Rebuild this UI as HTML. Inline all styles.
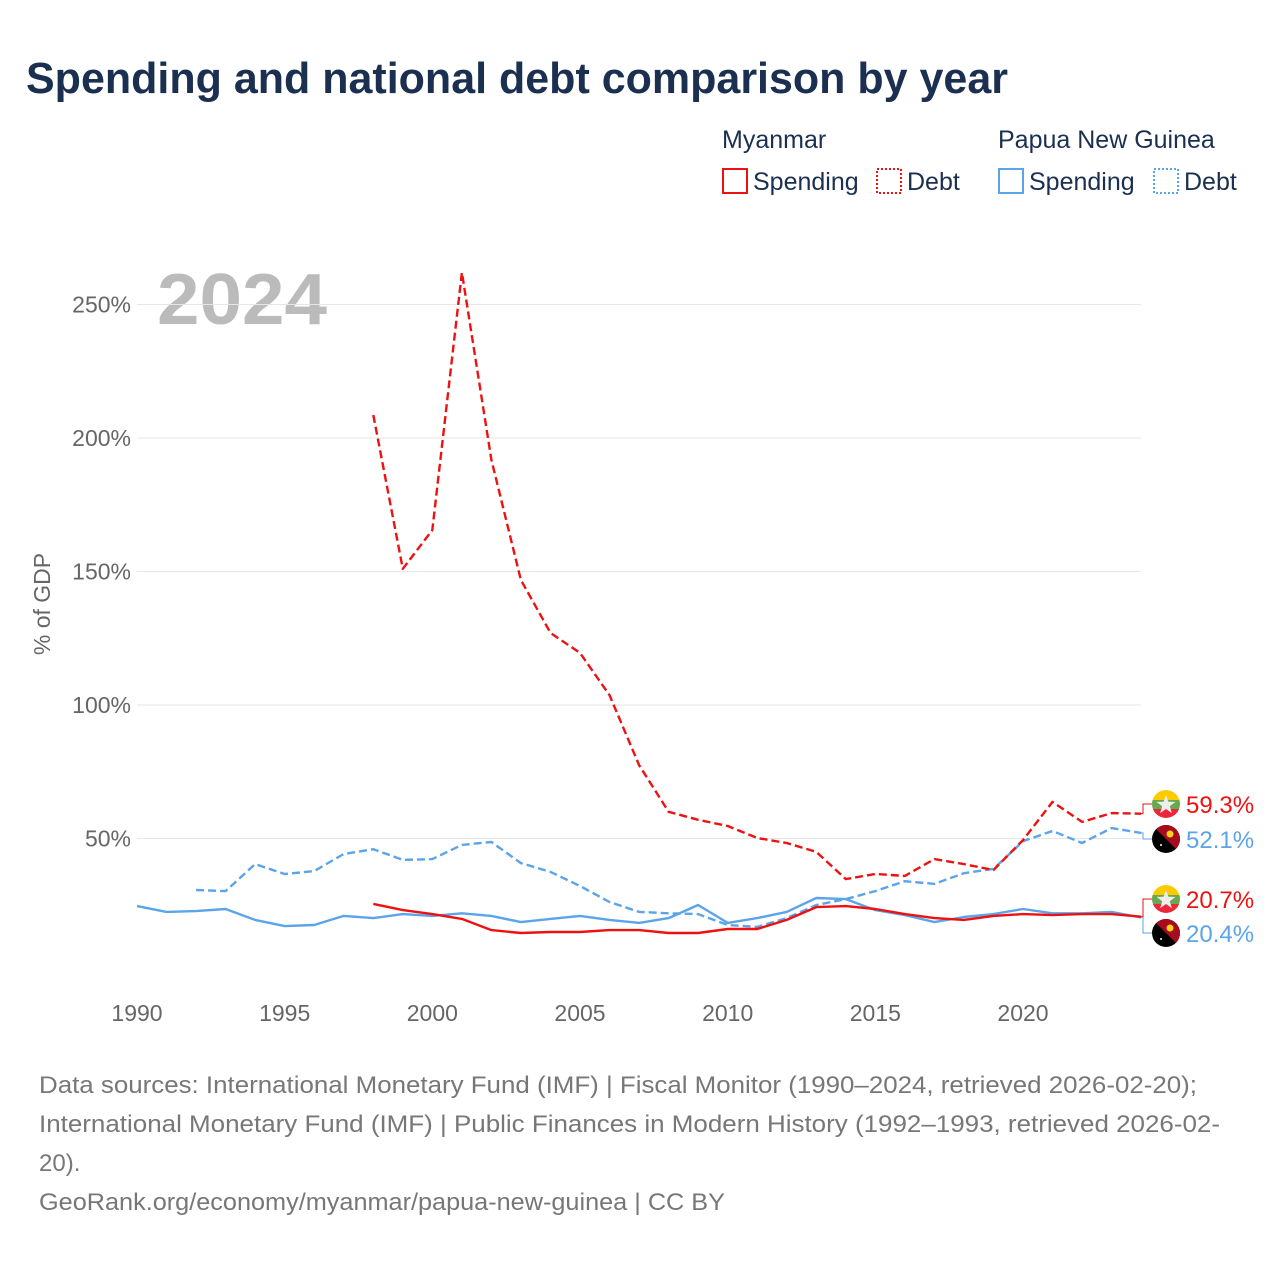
<!DOCTYPE html>
<html><head><meta charset="utf-8">
<style>
html,body{margin:0;padding:0;background:#fff;}
body{width:1280px;height:1280px;overflow:hidden;font-family:"Liberation Sans",sans-serif;}
text{font-family:"Liberation Sans",sans-serif;}
</style></head>
<body>
<svg id="chart" width="1280" height="1280" viewBox="0 0 1280 1280" xmlns="http://www.w3.org/2000/svg">
<text x="26" y="93" font-size="44" font-weight="bold" fill="#1b3050" textLength="982" lengthAdjust="spacingAndGlyphs">Spending and national debt comparison by year</text>
<g font-size="25" fill="#1b3050">
<text x="722" y="148">Myanmar</text>
<text x="998" y="148">Papua New Guinea</text>
<g><rect x="723" y="169" width="24" height="24" fill="none" stroke="#ee1111" stroke-width="2"/><text x="753" y="190">Spending</text></g>
<g><rect x="877" y="169" width="24" height="24" fill="none" stroke="#ee1111" stroke-width="2" stroke-dasharray="2,2"/><text x="907" y="190">Debt</text></g>
<g><rect x="999" y="169" width="24" height="24" fill="none" stroke="#5ba4ea" stroke-width="2"/><text x="1029" y="190">Spending</text></g>
<g><rect x="1154" y="169" width="24" height="24" fill="none" stroke="#5ba4ea" stroke-width="2" stroke-dasharray="2,2"/><text x="1184" y="190">Debt</text></g>
</g>
<text x="157" y="324" font-size="72" font-weight="bold" fill="#bbbbbb" textLength="170" lengthAdjust="spacingAndGlyphs">2024</text>
<text transform="translate(50,604) rotate(-90)" text-anchor="middle" font-size="23" fill="#666">% of GDP</text>
<g id="grid"></g>
<g id="ylabels"></g>
<g id="xlabels"></g>
<g id="series"></g>
<g id="endlabels"></g>
<g font-size="24" fill="#777">
<text x="39" y="1093" textLength="1158" lengthAdjust="spacingAndGlyphs">Data sources: International Monetary Fund (IMF) | Fiscal Monitor (1990–2024, retrieved 2026-02-20);</text>
<text x="39" y="1132" textLength="1181" lengthAdjust="spacingAndGlyphs">International Monetary Fund (IMF) | Public Finances in Modern History (1992–1993, retrieved 2026-02-</text>
<text x="39" y="1171">20).</text>
<text x="39" y="1210" textLength="686" lengthAdjust="spacingAndGlyphs">GeoRank.org/economy/myanmar/papua-new-guinea | CC BY</text>
</g>
</svg>
<script>
const yTicks=[50,100,150,200,250];
const xTicks=[1990,1995,2000,2005,2010,2015,2020];
const mmYears=[1998,1999,2000,2001,2002,2003,2004,2005,2006,2007,2008,2009,2010,2011,2012,2013,2014,2015,2016,2017,2018,2019,2020,2021,2022,2023,2024];
const mmDebt=[208.6,151,165.5,262,191.8,146.8,127,119.5,103.7,77.5,60,57,54.7,50.2,48.3,45,34.8,36.7,36,42.3,40.4,38.2,49.4,63.7,56.2,59.5,59.3];
const mmSpending=[25.5,23.2,21.7,19.9,15.7,14.6,15,15,15.7,15.7,14.6,14.6,16.1,16.1,19.5,24.3,24.7,23.6,21.7,20.2,19.5,21,21.7,21.3,21.7,21.7,20.7];
const pngDebtYears=[1992,1993,1994,1995,1996,1997,1998,1999,2000,2001,2002,2003,2004,2005,2006,2007,2008,2009,2010,2011,2012,2013,2014,2015,2016,2017,2018,2019,2020,2021,2022,2023,2024];
const pngDebt=[30.7,30.3,40.4,36.7,37.8,44.2,46,42,42.3,47.6,48.7,40.8,37.5,32.2,26.2,22.5,22,21.7,17.6,16.9,20.2,25.1,27.3,30.3,34,33,37,38.6,49,52.8,48.3,53.9,52.1];
const pngSpendYears=[1990,1991,1992,1993,1994,1995,1996,1997,1998,1999,2000,2001,2002,2003,2004,2005,2006,2007,2008,2009,2010,2011,2012,2013,2014,2015,2016,2017,2018,2019,2020,2021,2022,2023,2024];
const pngSpending=[24.7,22.5,22.8,23.6,19.5,17.2,17.6,21,20.2,21.7,21,22,21,18.7,19.9,21,19.5,18.4,20.2,25.1,18.4,20.2,22.5,27.7,27.3,23.2,21.3,18.7,20.6,21.7,23.6,22,22,22.5,20.4];

const NS="http://www.w3.org/2000/svg";
const X=y=>137+(y-1990)*(886/30);
const Y=v=>972-v*2.67;
function mk(tag,attrs,parent){const e=document.createElementNS(NS,tag);for(const k in attrs)e.setAttribute(k,attrs[k]);parent.appendChild(e);return e;}
const grid=document.getElementById('grid'),yl=document.getElementById('ylabels'),xl=document.getElementById('xlabels'),ser=document.getElementById('series'),el=document.getElementById('endlabels');
yTicks.forEach(t=>{
  const l=mk('line',{x1:137,x2:1141,y1:Y(t),y2:Y(t),stroke:'#e6e6e6','stroke-width':1},grid);
  
  
  const tx=mk('text',{x:131,y:Y(t)+8,'text-anchor':'end','font-size':23,fill:'#666'},yl);
  tx.textContent=t+'%';
  
  
});
xTicks.forEach(t=>{
  const tx=mk('text',{x:X(t),y:1021,'text-anchor':'middle','font-size':23,fill:'#666'},xl);
  tx.textContent=t;
  
  
});
function line(years,vals,color,dash,name){
  const d=years.map((y,i)=>(i?'L':'M')+X(y).toFixed(1)+','+Y(vals[i]).toFixed(1)).join('');
  const p=mk('path',{d:d,fill:'none',stroke:color,'stroke-width':2.4,'stroke-linejoin':'round'},ser);
  if(dash)p.setAttribute('stroke-dasharray','8,4');
  
  
}
const RED='#ee1111',BLUE='#5ba4ea';
line(pngSpendYears,pngSpending,BLUE,false,'png-spending-line');
line(pngDebtYears,pngDebt,BLUE,true,'png-debt-line');
line(mmYears,mmSpending,RED,false,'myanmar-spending-line');
line(mmYears,mmDebt,RED,true,'myanmar-debt-line');

function flag(cx,cy,mm,parent){
  const g=mk('g',{},parent);
  const cid='c'+Math.round(cx)+'_'+Math.round(cy);
  const cp=mk('clipPath',{id:cid},g);mk('circle',{cx:cx,cy:cy,r:14},cp);
  const f=mk('g',{'clip-path':'url(#'+cid+')'},g);
  if(mm){
    mk('rect',{x:cx-14,y:cy-14,width:28,height:10,fill:'#fecb00'},f);
    mk('rect',{x:cx-14,y:cy-4,width:28,height:9,fill:'#6aa84f'},f);
    mk('rect',{x:cx-14,y:cy+5,width:28,height:9,fill:'#ea2839'},f);
    mk('polygon',{points:[0,1,2,3,4,5,6,7,8,9].map(i=>{const r=i%2?4:10,a=-Math.PI/2+i*Math.PI/5;return (cx+r*Math.cos(a)).toFixed(1)+','+(cy+1+r*Math.sin(a)).toFixed(1);}).join(' '),fill:'#eee'},f);
  }else{
    mk('rect',{x:cx-14,y:cy-14,width:28,height:28,fill:'#000'},f);
    mk('polygon',{points:(cx-14)+','+(cy-14)+' '+(cx+14)+','+(cy-14)+' '+(cx+14)+','+(cy+14),fill:'#a50d1f'},f);
    mk('circle',{cx:cx+4,cy:cy-5,r:3.5,fill:'#fcd116'},f);
    mk('circle',{cx:cx-5,cy:cy+6,r:1,fill:'#fff'},f);
  }
  return g;
}
function endLabel(val,ly,mm,color,name){
  const g=mk('g',{},el);
  
  
  const x0=X(2024),y0=Y(val);
  mk('path',{d:'M'+x0+','+y0+'H1143V'+ly+'H1152',fill:'none',stroke:color,'stroke-width':1},g);
  flag(1166,ly,mm,g);
  const t=mk('text',{x:1186,y:ly+9,'font-size':24,fill:color},g);
  t.textContent=val.toFixed(1)+'%';
}
endLabel(mmDebt[mmDebt.length-1],804,true,RED,'end-label-myanmar-debt');
endLabel(pngDebt[pngDebt.length-1],839,false,BLUE,'end-label-png-debt');
endLabel(mmSpending[mmSpending.length-1],899,true,RED,'end-label-myanmar-spending');
endLabel(pngSpending[pngSpending.length-1],933,false,BLUE,'end-label-png-spending');
</script>
</body></html>
